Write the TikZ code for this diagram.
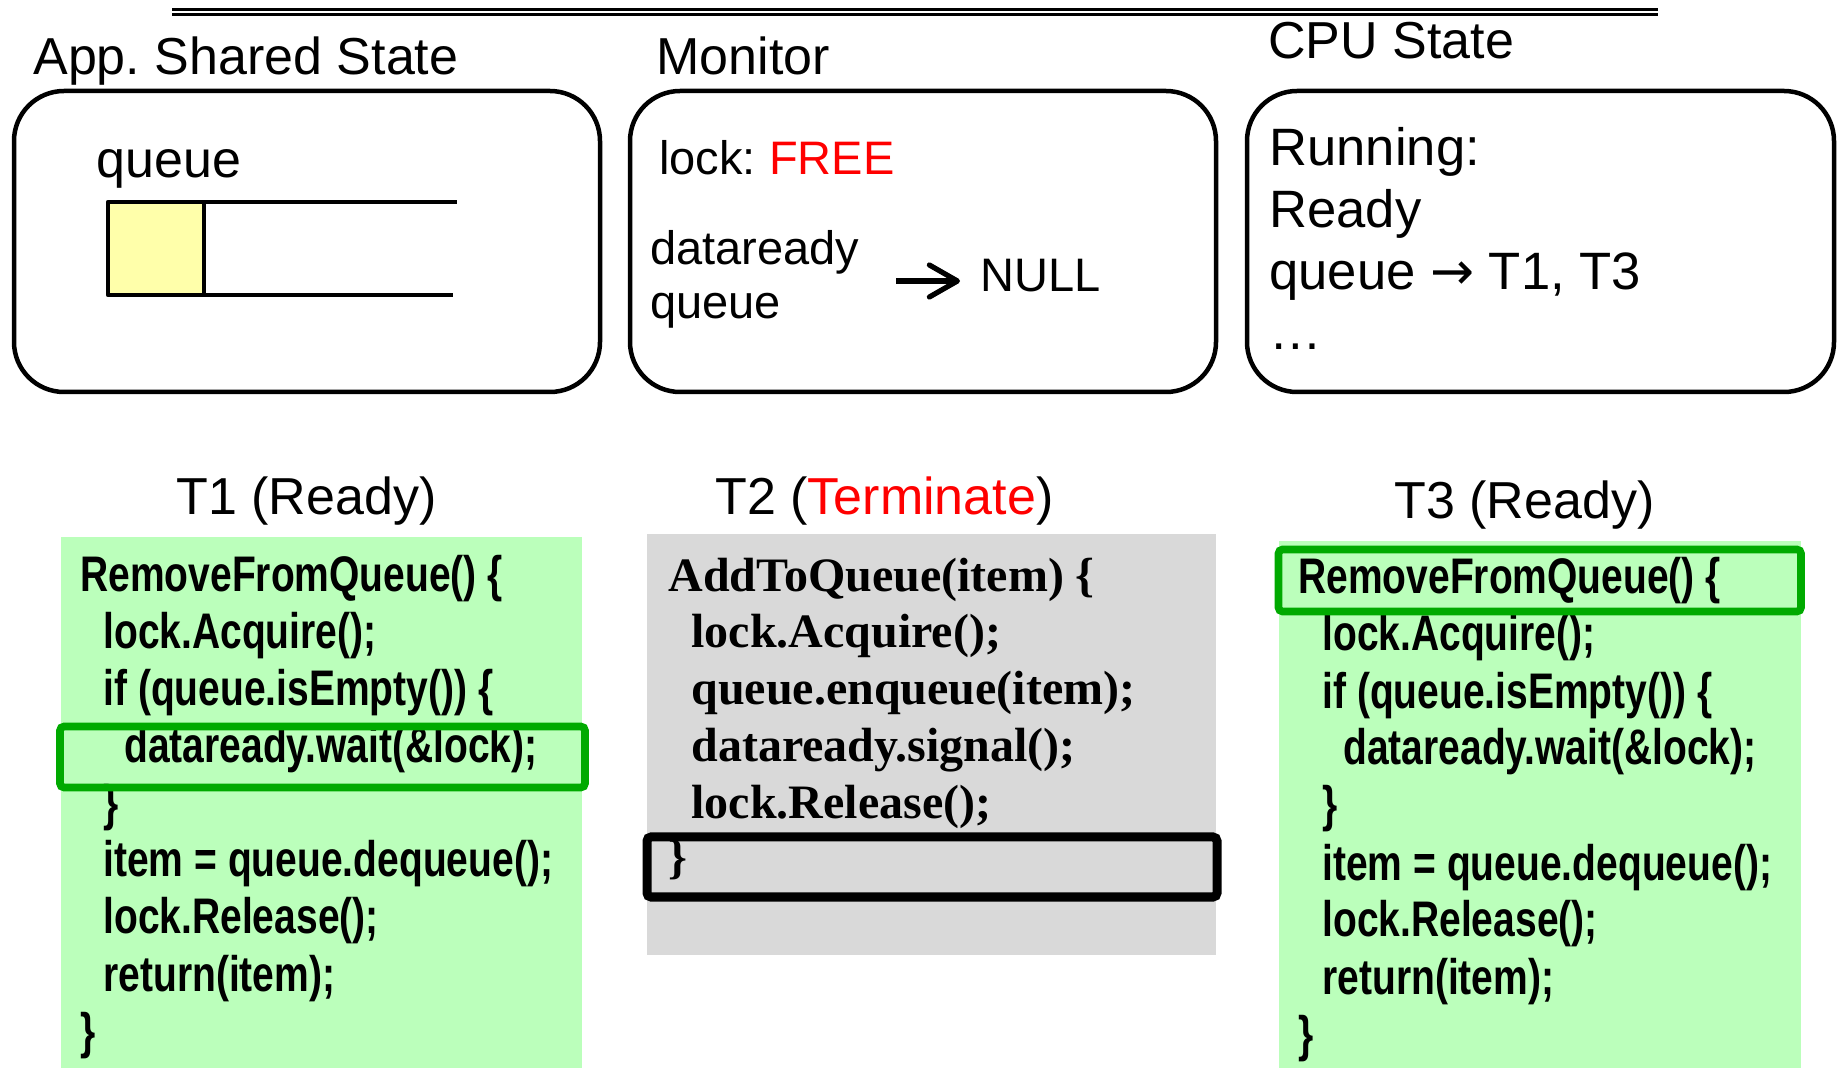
\documentclass[tikz,border=0pt]{standalone}
\usepackage{fontspec}
\setmainfont{Liberation Sans}
\newfontfamily\codefont[FakeStretch=0.78]{Liberation Sans}
\newfontfamily\timesfont{Liberation Serif}
\newfontfamily\arrowfont{DejaVu Sans}
\usetikzlibrary{arrows.meta}
\definecolor{hlgreen}{RGB}{0,170,0}
\definecolor{codegreen}{RGB}{187,255,187}
\definecolor{codegray}{RGB}{217,217,217}
\definecolor{qyellow}{RGB}{255,255,170}
\definecolor{myred}{RGB}{255,0,0}
\tikzset{
  title/.style={anchor=base west, inner sep=0pt, font=\fontsize{26}{30}\selectfont},
  boxtext/.style={anchor=base west, inner sep=0pt, font=\fontsize{23.5}{28}\selectfont},
  cputext/.style={anchor=base west, inner sep=0pt, font=\fontsize{26.3}{30}\selectfont},
  panel/.style={draw, line width=2.25pt, rounded corners=25pt},
  code/.style={anchor=base west, inner sep=0pt, font=\codefont\bfseries\fontsize{25}{28}\selectfont},
  tcode/.style={anchor=base west, inner sep=0pt, font=\timesfont\bfseries\fontsize{24}{28}\selectfont},
  hl/.style={draw=hlgreen, line width=3.8pt, rounded corners=2pt},
  blackhl/.style={draw=black, line width=4.5pt, rounded corners=2pt},
  qline/.style={line width=2.2pt},
  bigarrow/.style={line width=2.6pt, -{Straight Barb[length=14pt,width=16pt,round]}}
}
\frenchspacing
\begin{document}
\begin{tikzpicture}[x=0.5pt,y=-0.5pt]
\useasboundingbox (0,0) rectangle (1837,1068);
\fill[white] (0,0) rectangle (1837,1068);
% top double rule
\draw[line width=1.1pt] (172,9.5) -- (1658,9.5);
\draw[line width=1.1pt] (172,14.5) -- (1658,14.5);
% titles
\node[title] (tapp) at (33,75) {App. Shared State};
\node[title] (tmon) at (656,75) {Monitor};
\node[title] (tcpu) at (1268,59) {CPU State};
% panels
\draw[panel] (14,91) rectangle (600,392);
\draw[panel] (630,91) rectangle (1216,392);
\draw[panel] (1247,91) rectangle (1834,392);
% app shared state
\node[title] (qlabel) at (96,178) {queue};
\filldraw[fill=qyellow, draw=black, line width=2.2pt, line join=round] (108,202) rectangle (204,295);
\draw[qline] (204,202) -- (457,202);
\draw[qline] (204,295) -- (453,295);
% monitor
\node[boxtext] (lock) at (659,175) {lock: \textcolor{myred}{FREE}};
\node[boxtext] (dr) at (650,265) {dataready};
\node[boxtext] (dq) at (650,319) {queue};
\node[boxtext] (null) at (980,292) {NULL};
\coordinate (arrs) at (896,281);
\coordinate (arre) at (960,281);
\draw[bigarrow] (arrs) -- (arre);
% cpu state
\node[cputext] (run) at (1269,166) {Running:};
\node[cputext] (rdy) at (1269,228) {Ready};
\node[cputext] (rq) at (1269,290) {queue {\arrowfont →} T1, T3};
\node[cputext] (dots) at (1269,350) {…};
% thread headings
\node[title] (h1) at (176,515) {T1 (Ready)};
\node[title] (h2) at (715,515) {T2 (\textcolor{myred}{Terminate})};
\node[title] (h3) at (1394,519) {T3 (Ready)};
% code backgrounds
\fill[codegreen] (61,537) rectangle (582,1068);
\fill[codegray] (647,534) rectangle (1216,955);
\fill[codegreen] (1279,541) rectangle (1801,1068);
% T1 code
\node[code] (a1) at (80,592) {RemoveFromQueue() \{};
\node[code] (a2) at (103,649) {lock.Acquire();};
\node[code] (a3) at (103,706) {if (queue.isEmpty()) \{};
\node[code] (a4) at (124,763) {dataready.wait(\&lock);};
\node[code] (a5) at (103,820) {\}};
\node[code] (a6) at (103,877) {item = queue.dequeue();};
\node[code] (a7) at (103,934) {lock.Release();};
\node[code] (a8) at (103,991) {return(item);};
\node[code] (a9) at (80,1048) {\}};
\draw[hl] (60,726.5) rectangle (585,787.5);
% T2 code
\node[tcode] (b1) at (668,592) {AddToQueue(item) \{};
\node[tcode] (b2) at (691,648) {lock.Acquire();};
\node[tcode] (b3) at (691,705) {queue.enqueue(item);};
\node[tcode] (b4) at (691,762) {dataready.signal();};
\node[tcode] (b5) at (691,819) {lock.Release();};
\node[tcode] (b6) at (668,873) {\}};
\draw[blackhl] (647,837) rectangle (1217,897);
% T3 code
\node[code] (c1) at (1298,594) {RemoveFromQueue() \{};
\node[code] (c2) at (1322,651) {lock.Acquire();};
\node[code] (c3) at (1322,709) {if (queue.isEmpty()) \{};
\node[code] (c4) at (1343,765) {dataready.wait(\&lock);};
\node[code] (c5) at (1322,822) {\}};
\node[code] (c6) at (1322,880) {item = queue.dequeue();};
\node[code] (c7) at (1322,936) {lock.Release();};
\node[code] (c8) at (1322,994) {return(item);};
\node[code] (c9) at (1298,1051) {\}};
\draw[hl] (1278.5,549.5) rectangle (1801,611.5);
\end{tikzpicture}
\end{document}
